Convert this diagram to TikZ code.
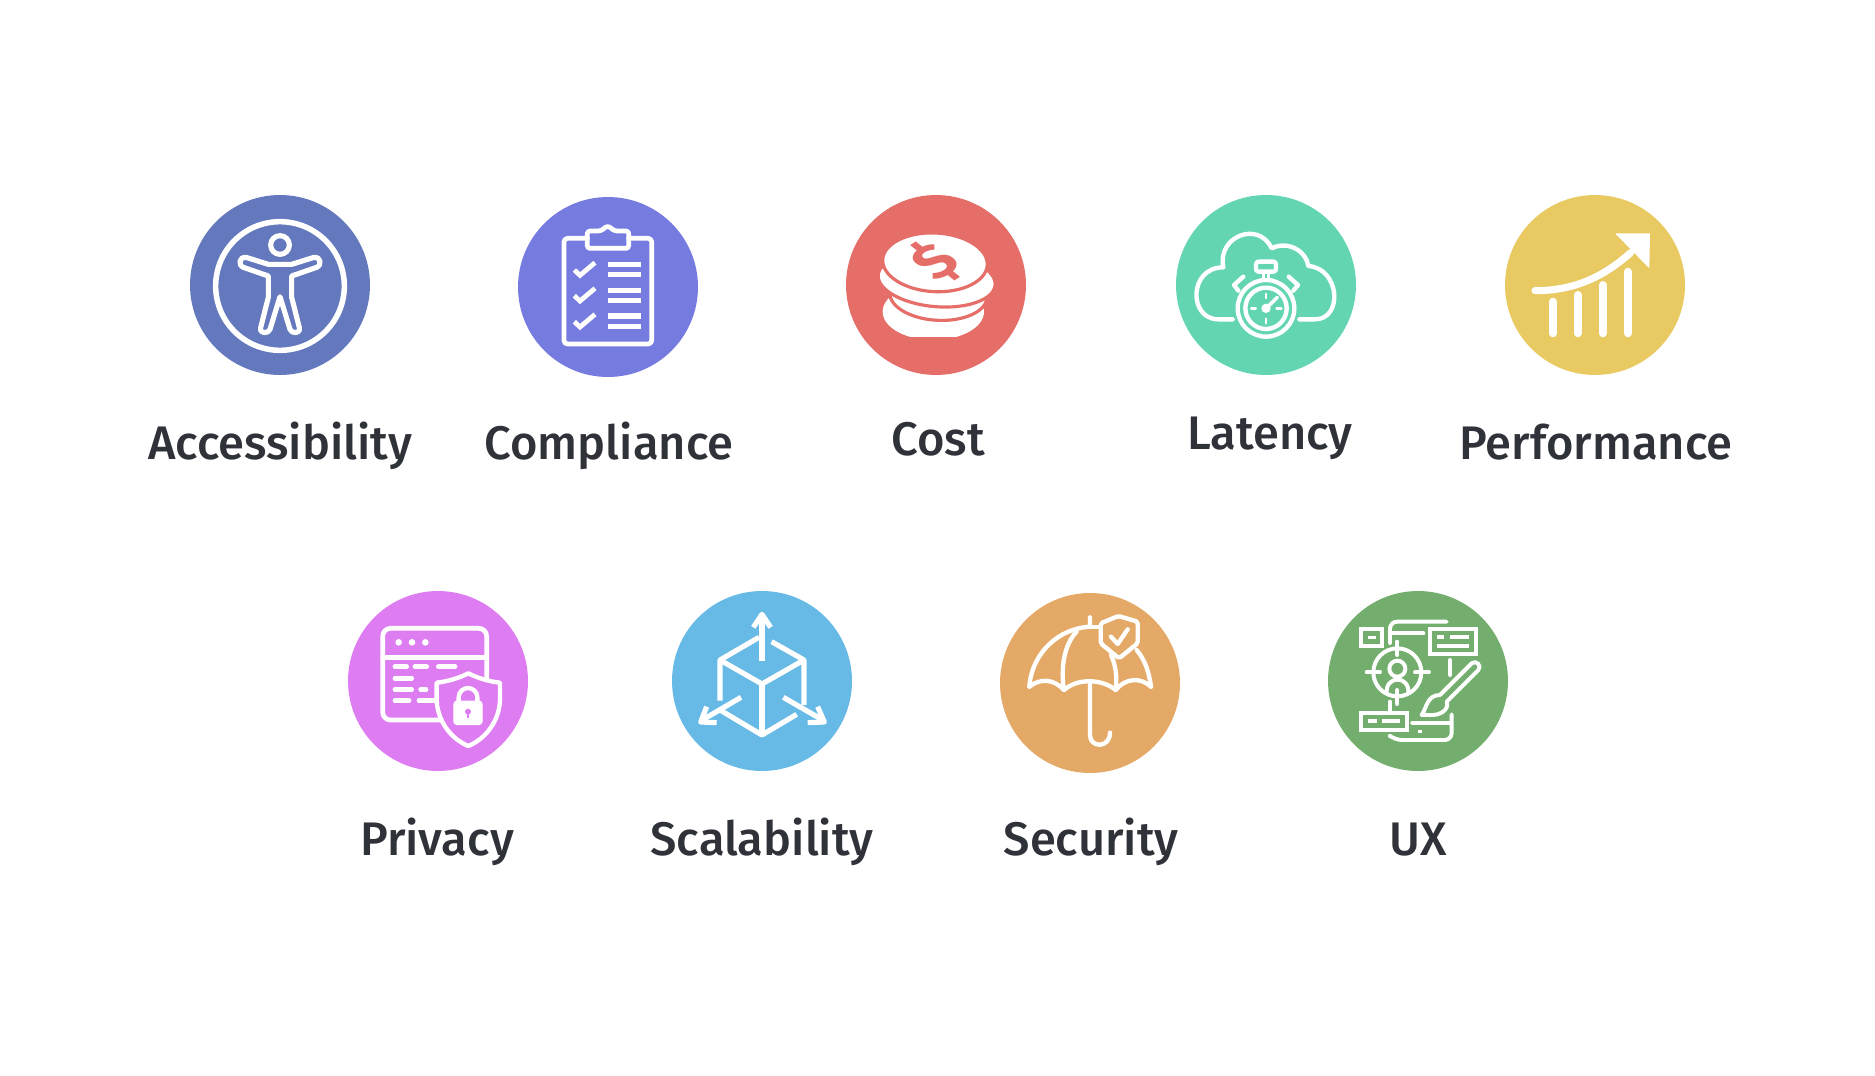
\documentclass[tikz,border=0pt]{standalone}
\usepackage{fontspec}
\setmainfont{Fira Sans}[UprightFont=* Medium,BoldFont=* Bold]
\usepackage{tikz}
\definecolor{inkgray}{HTML}{2F3238}
\definecolor{accblue}{HTML}{6478BE}
\definecolor{compblue}{HTML}{767BE0}
\definecolor{costred}{HTML}{E56E68}
\definecolor{latgreen}{HTML}{63D5B2}
\definecolor{perfgold}{HTML}{E9C962}
\definecolor{privpink}{HTML}{DE7CF2}
\definecolor{scalblue}{HTML}{67B9E6}
\definecolor{secorange}{HTML}{E4A966}
\definecolor{uxgreen}{HTML}{74AE6E}

\begin{document}
\begin{tikzpicture}[x=0.02cm,y=-0.02cm]
\tikzstyle{badge}=[circle,minimum size=3.6cm,inner sep=0pt]
\tikzstyle{tag}=[anchor=base,text=inkgray,inner sep=0pt,font=\fontsize{26.8}{30}\selectfont]
\tikzstyle{ln}=[draw=white,line width=#1*0.225pt,line cap=round,line join=round,fill=none]
\tikzset{ln/.default=12,icon/.style 2 args={shift={(#1,#2)},scale=1/3}}
\useasboundingbox (0,0) rectangle (1875,1075);
\foreach \name/\point/\tint in {
	acc/{280,285}/accblue,
	comp/{608,287}/compblue,
	cost/{936,285}/costred,
	lat/{1266,285}/latgreen,
	perf/{1595,285}/perfgold,
	priv/{438,681}/privpink,
	scal/{762,681}/scalblue,
	sec/{1090,683}/secorange,
	ux/{1418,681}/uxgreen}
	\node[badge,fill=\tint] (\name) at (\point) {};
\foreach \name/\point/\word in {
	acctag/{280,459}/Accessibility,
	comptag/{609,459}/Compliance,
	costtag/{938,455}/Cost,
	lattag/{1270,449}/Latency,
	perftag/{1596,459}/Performance,
	privtag/{437,855}/Privacy,
	scaltag/{762,855}/Scalability,
	sectag/{1091,855}/Security,
	uxtag/{1418,855}/UX}
	\node[tag] (\name) at (\point) {\word};
% accessibility
\begin{scope}[icon={170}{180}]
	\draw[ln=14] (330,318) circle (193);
	\draw[ln=13] (330,195) circle (28);
	\draw[ln=13] (295,253) -- (365,253) -- (432,232) .. controls (450,228) and (458,254) .. (440,262) -- (365,288) -- (365,352) -- (388,443) .. controls (392,462) and (365,462) .. (360,448) -- (330,350) -- (300,448) .. controls (295,462) and (268,462) .. (272,443) -- (295,352) -- (295,288) -- (220,262) .. controls (202,254) and (210,228) .. (228,232) -- cycle;
\end{scope}
% compliance
\begin{scope}[icon={510}{180}]
	\draw[ln=12,rounded corners=2pt] (232,175) -- (162,175) -- (162,492) -- (425,492) -- (425,175) -- (356,175);
	\draw[ln=12,rounded corners=1.5pt] (232,205) -- (232,153) -- (272,153) -- (293,137) -- (314,153) -- (356,153) -- (356,205) -- cycle;
	\foreach \dy in {0,77,155}
		\draw[ln=12,line cap=butt,line join=miter] (193,270+\dy) -- (210,286+\dy) -- (255,248+\dy);
	\foreach \ypos in {254,284,331,362,408,439}
		\draw[ln=13,line cap=butt] (293,\ypos) -- (394,\ypos);
\end{scope}
% cost
\begin{scope}[icon={830}{180}]
	\begin{scope}
		\clip (100,150) rectangle (520,470);
		\fill[white] (310,395) ellipse [x radius=152,y radius=85];
	\end{scope}
	\draw[costred,fill=white,line width=1.8pt,rotate around={-3:(325,345)}] (325,345) ellipse [x radius=146,y radius=76];
	\draw[costred,fill=white,line width=1.8pt,rotate around={-5:(320,300)}] (320,300) ellipse [x radius=176,y radius=80];
	\draw[costred,fill=white,line width=1.8pt,rotate around={-3:(315,247)}] (315,247) ellipse [x radius=157,y radius=88];
\end{scope}
\begin{scope}[shift={(935,262)},yscale=0.72]
	\node[text=costred,inner sep=0pt,transform shape,rotate=42,font=\bfseries\fontsize{38}{38}\selectfont] (dollar) at (0,0) {\$};
\end{scope}
% latency
\begin{scope}[icon={1160}{180}]
	\draw[ln=11] (218,418) -- (175,418) .. controls (85,418) and (85,262) .. (190,262) .. controls (170,170) and (295,120) .. (335,205) .. controls (385,180) and (440,215) .. (445,258) .. controls (540,265) and (550,418) .. (465,418) -- (418,418);
	\draw[ln=11] (318,385) circle (85);
	\draw[ln=11] (318,385) circle (62);
	\draw[ln=11,rounded corners=1.5pt] (288,245) rectangle (348,275);
	\draw[ln=9,line cap=butt] (310,275) -- (310,300) (326,275) -- (326,300);
	\draw[ln=11] (250,290) -- (222,315) -- (235,332);
	\draw[ln=11] (386,290) -- (414,315) -- (400,332);
	\draw[ln=7] (318,342) -- (318,354) (318,416) -- (318,430) (274,385) -- (287,385) (350,385) -- (364,385);
	\fill[white] (318,385) circle (14);
	\draw[ln=9] (318,385) -- (352,352);
\end{scope}
% performance
\begin{scope}[icon={1490}{180}]
	\draw[ln=18] (135,332) .. controls (240,332) and (330,300) .. (422,218);
	\fill[white,rounded corners=0.5pt] (375,160) -- (480,160) -- (478,265) -- cycle;
	\foreach \xpos/\ytop in {188/365,263/345,338/315,413/275}
		\draw[ln=20] (\xpos,\ytop) -- (\xpos,460);
\end{scope}
% privacy
\begin{scope}[icon={330}{580}]
	\draw[ln=12,rounded corners=4.5pt] (330,420) -- (158,420) -- (158,145) -- (470,145) -- (470,298);
	\draw[ln=11] (158,232) -- (470,232);
	\foreach \xpos in {206,246,286}
		\fill[white] (\xpos,187) circle (10);
	\foreach \ypos/\xa/\xb in {260/195/230,260/255/290,260/325/375,295/195/245,328/195/245,328/272/288,362/195/237,362/267/315}
		\draw[ln=12] (\xa,\ypos) -- (\xb,\ypos);
	\draw[ln=11] (415,280) .. controls (385,295) and (350,305) .. (320,308) -- (320,360) .. controls (322,420) and (360,475) .. (415,498) .. controls (470,475) and (508,420) .. (510,360) -- (510,308) .. controls (480,305) and (445,295) .. (415,280) -- cycle;
	\fill[white,rounded corners=2pt] (370,362) rectangle (458,435);
	\draw[ln=11,line cap=butt] (386,365) -- (386,352) arc (180:360:28) -- (442,365);
	\fill[privpink] (414,395) circle (9);
	\fill[privpink] (410,395) rectangle (418,415);
\end{scope}
% scalability
\begin{scope}[icon={655}{580}]
	\draw[ln=13,line cap=butt] (195,362) -- (195,240) -- (312,172);
	\draw[ln=13,line cap=butt] (350,185) -- (447,240) -- (447,375);
	\draw[ln=13,line cap=butt] (195,240) -- (321,312) -- (447,240);
	\draw[ln=13,line cap=butt] (321,312) -- (321,465);
	\draw[ln=13,line cap=butt] (195,390) -- (321,465) -- (425,403);
	\draw[ln=13,line cap=butt] (321,242) -- (321,105);
	\draw[ln=13,line cap=butt] (295,142) -- (321,103) -- (347,142);
	\draw[ln=13,line cap=butt] (258,352) -- (142,420);
	\draw[ln=13,line cap=butt] (155,380) -- (137,426) -- (185,428);
	\draw[ln=13,line cap=butt] (385,352) -- (503,420);
	\draw[ln=13,line cap=butt] (488,380) -- (508,426) -- (458,428);
\end{scope}
% security
\begin{scope}[icon={985}{580}]
	\draw[ln=11] (133,320) .. controls (140,220) and (220,145) .. (315,140) -- (315,112);
	\draw[ln=11] (315,140) -- (347,140);
	\draw[ln=11] (455,210) .. controls (480,240) and (492,275) .. (498,320);
	\draw[ln=11] (133,320) .. controls (165,295) and (205,295) .. (237,330) .. controls (275,295) and (350,295) .. (392,330) .. controls (420,295) and (465,290) .. (498,320);
	\draw[ln=11] (237,330) .. controls (225,260) and (240,190) .. (275,155);
	\draw[ln=11] (392,330) .. controls (397,290) and (392,255) .. (378,225);
	\draw[ln=11] (315,305) -- (315,465) .. controls (315,505) and (375,505) .. (375,458);
	\draw[ln=11,rounded corners=1pt] (347,130) -- (400,108) -- (458,125) -- (458,190) -- (402,235) -- (347,190) -- cycle;
	\draw[ln=11] (378,170) -- (398,192) -- (428,148);
\end{scope}
% ux
\begin{scope}[icon={1315}{580}]
	\draw[ln=10,line join=miter] (138,148) rectangle (200,198);
	\fill[white] (158,167) rectangle (182,178);
	\draw[ln=10,rounded corners=4pt] (395,125) -- (225,125) -- (225,190);
	\draw[ln=10] (225,160) -- (325,160);
	\draw[ln=10,line join=miter] (345,148) rectangle (482,222);
	\draw[ln=10,line cap=butt] (365,172) -- (388,172) (405,172) -- (462,172) (365,198) -- (462,198);
	\draw[ln=10] (247,277) circle (72);
	\draw[ln=10] (247,185) -- (247,225) (247,330) -- (247,372) (155,277) -- (195,277) (300,277) -- (342,277);
	\draw[ln=10] (247,266) circle (24);
	\draw[ln=10] (215,340) .. controls (210,285) and (285,285) .. (280,340);
	\draw[ln=10] (225,365) -- (225,397);
	\draw[ln=10,line join=miter] (138,398) rectangle (275,450);
	\draw[ln=10,line cap=butt] (158,424) -- (185,424) (200,424) -- (255,424);
	\draw[ln=10] (292,428) -- (408,428);
	\draw[ln=10,rounded corners=4pt] (410,403) -- (410,480) -- (240,480) -- (225,468);
	\fill[white] (310,450) rectangle (320,460);
	\draw[ln=10] (405,240) -- (405,285);
	\draw[ln=10] (375,345) -- (470,250) .. controls (482,238) and (502,258) .. (490,270) -- (395,365);
	\draw[ln=10] (375,345) .. controls (335,345) and (335,385) .. (320,405) -- (355,405) .. controls (390,402) and (402,378) .. (395,365);
\end{scope}
\end{tikzpicture}
\end{document}
